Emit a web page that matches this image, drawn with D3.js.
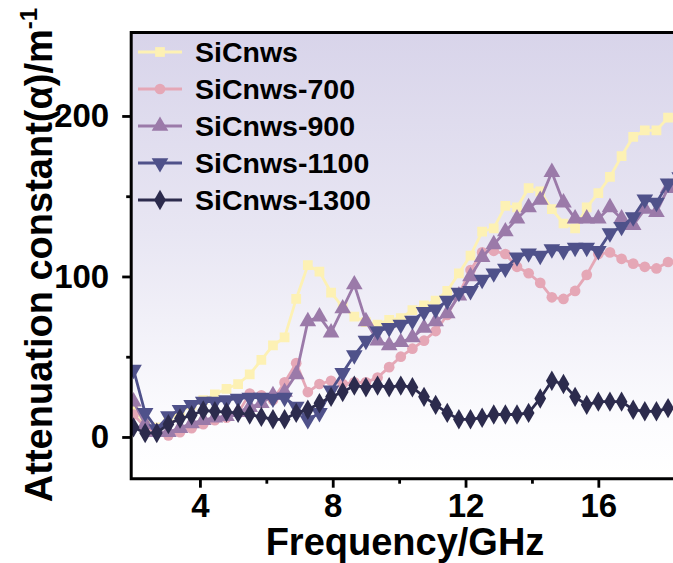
<!DOCTYPE html>
<html>
<head>
<meta charset="utf-8">
<script src="https://cdn.jsdelivr.net/npm/d3@7"></script>
<style>
  html, body { margin: 0; padding: 0; background: #ffffff; }
  svg { display: block; }
  text { font-family: "Liberation Sans", Arial, sans-serif; font-weight: bold; fill: #000; }
</style>
</head>
<body>
<svg id="chart" width="673" height="563"></svg>
<script>
// Frequency sampling points (GHz)
const freq = [2.00, 2.35, 2.70, 3.05, 3.40, 3.75, 4.10, 4.45, 4.80, 5.15, 5.50, 5.85,
  6.20, 6.55, 6.90, 7.25, 7.60, 7.95, 8.30, 8.65, 9.00, 9.35, 9.70, 10.05,
  10.40, 10.75, 11.10, 11.45, 11.80, 12.15, 12.50, 12.85, 13.20, 13.55, 13.90, 14.25,
  14.60, 14.95, 15.30, 15.65, 16.00, 16.35, 16.70, 17.05, 17.40, 17.75, 18.10, 18.45];

// Attenuation constant (m^-1) for each sample
const sicnws = [18, 8, 6, 11, 15.5, 20, 23, 26.5, 30, 33, 39, 48,
  57, 62, 86, 107, 103, 90, 81, 75, 71.5, 70, 73, 74,
  79, 82, 85, 91, 102, 113, 128, 130, 144, 143, 155, 153,
  142, 133, 130, 143, 152, 162, 175, 187, 191, 191, 199, 201];
const sicnws700 = [14, 6, 3, 1, 3, 5.5, 8, 10.5, 12, 15, 27, 26,
  23, 34, 46, 28, 33, 35, 33, 34, 34, 37, 43.5, 50,
  55, 60, 66, 76, 89, 104, 115, 116, 114, 106, 102, 96,
  87, 86, 91, 101, 114, 115, 111, 108, 106, 105, 109, 110];
const sicnws900 = [22, 8, 3, 3, 5.5, 8.5, 10.5, 12, 13, 15.5, 18.5, 21,
  26, 28, 39, 72, 75, 65, 80, 95, 72, 60, 57, 59,
  62, 68, 72, 77, 88, 100, 112, 120, 128, 136, 143, 147.6,
  165, 146, 136, 136, 136, 143, 136, 132, 142, 140, 155, 160];
const sicnws1100 = [42, 15, 5, 13, 17, 20, 22, 22, 23, 24, 24.5, 24.5,
  24, 24.5, 19, 10.6, 15, 29, 40, 51, 60, 66, 68, 70,
  72.5, 78, 79.5, 85, 90, 91, 98, 102, 105, 112, 114.5, 113,
  117, 116, 118, 118, 116, 127, 131, 137, 148, 146, 158, 162];
const sicnws1300 = [6, 2.5, 2.5, 8, 11.5, 13.5, 16.5, 16, 15.5, 15, 14, 12.5,
  11, 11, 15, 17, 21, 25, 28, 32, 31, 32, 31, 32,
  31, 25, 20, 15, 11, 11, 12, 14, 14, 14, 15, 24,
  35, 33, 25, 20, 22, 22, 22, 17, 16, 16, 18, 18];

const seriesNames = ["SiCnws", "SiCnws-700", "SiCnws-900", "SiCnws-1100", "SiCnws-1300"];
const seriesColors = ["#fdf1b4", "#e5a7b6", "#9b7aa9", "#4f518a", "#2c2b4d"];
const seriesSymbols = [d3.symbolSquare, d3.symbolCircle, d3.symbolTriangle, "down", d3.symbolDiamond];
const seriesValues = [sicnws, sicnws700, sicnws900, sicnws1100, sicnws1300];

const xMajorTicks = [4, 8, 12, 16];
const xMinorTicks = [6, 10, 14];
const yMajorTicks = [0, 100, 200];
const yMinorTicks = [50, 150];

const svg = d3.select("#chart");
const plotLeft = 131.2, plotRight = 691.3, plotTop = 32.5, plotBottom = 478.7;

const x = d3.scaleLinear().domain([1.93, 18.8]).range([plotLeft, plotRight]);
const y = d3.scaleLinear().domain([-26, 252]).range([plotBottom, plotTop]);

// plot background: lavender fading to white
const defs = svg.append("defs");
const grad = defs.append("linearGradient").attr("id", "bg")
  .attr("x1", 0).attr("y1", 0).attr("x2", 0).attr("y2", 1);
grad.append("stop").attr("offset", "0%").attr("stop-color", "#d8d4ea");
grad.append("stop").attr("offset", "45%").attr("stop-color", "#e8e6f3");
grad.append("stop").attr("offset", "88%").attr("stop-color", "#fcfcfe");
grad.append("stop").attr("offset", "100%").attr("stop-color", "#ffffff");
defs.append("clipPath").attr("id", "plotClip").append("rect")
  .attr("x", plotLeft).attr("y", plotTop).attr("width", plotRight - plotLeft).attr("height", plotBottom - plotTop);

svg.append("rect").attr("x", plotLeft).attr("y", plotTop)
  .attr("width", plotRight - plotLeft).attr("height", plotBottom - plotTop)
  .attr("fill", "url(#bg)");

// marker path builder
function markerPath(sym, size) {
  if (sym === "down") {
    return d3.symbol().type(d3.symbolTriangle).size(size)();
  }
  return d3.symbol().type(sym).size(size)();
}
const markerSizes = [95, 90, 120, 120, 120];

const plot = svg.append("g").attr("clip-path", "url(#plotClip)");
seriesValues.forEach((vals, s) => {
  const pts = freq.map((f, i) => [f, vals[i]]);
  const line = d3.line().x(d => x(d[0])).y(d => y(d[1]));
  const g = plot.append("g");
  g.append("path").datum(pts).attr("d", line)
    .attr("fill", "none").attr("stroke", seriesColors[s])
    .attr("stroke-width", 2.8).attr("stroke-linejoin", "round");
  g.selectAll("path.m").data(pts).enter().append("path").attr("class", "m")
    .attr("d", markerPath(seriesSymbols[s], markerSizes[s]))
    .attr("transform", d => `translate(${x(d[0])},${y(d[1])})` + (seriesSymbols[s] === "down" ? " rotate(180)" : ""))
    .attr("fill", seriesColors[s]);
});

// axes
const axisStyle = g => {
  g.select(".domain").remove();
  g.selectAll(".tick line").attr("stroke", "#000").attr("stroke-width", 2.8);
  g.selectAll(".tick text").style("font-size", "33px").style("font-weight", "bold")
    .style("font-family", "'Liberation Sans', Arial, sans-serif");
};
svg.append("g").attr("transform", `translate(${plotLeft},0)`)
  .call(d3.axisLeft(y).tickValues(yMajorTicks).tickSize(9).tickPadding(13).tickFormat(d3.format("d")))
  .call(axisStyle);
svg.append("g").attr("transform", `translate(${plotLeft},0)`)
  .call(d3.axisLeft(y).tickValues(yMinorTicks).tickSize(5).tickFormat(""))
  .call(axisStyle);
svg.append("g").attr("transform", `translate(0,${plotBottom})`)
  .call(d3.axisBottom(x).tickValues(xMajorTicks).tickSize(9).tickPadding(6).tickFormat(d3.format("d")))
  .call(axisStyle);
svg.append("g").attr("transform", `translate(0,${plotBottom})`)
  .call(d3.axisBottom(x).tickValues(xMinorTicks).tickSize(5).tickFormat(""))
  .call(axisStyle);

// frame
svg.append("path")
  .attr("d", `M${plotRight},${plotTop}H${plotLeft}V${plotBottom}H${plotRight}`)
  .attr("fill", "none").attr("stroke", "#000").attr("stroke-width", 3);

// axis titles
svg.append("text").attr("x", 405).attr("y", 555).attr("text-anchor", "middle")
  .style("font-size", "38px").text("Frequency/GHz");
const yt = svg.append("text").attr("transform", "translate(52,255) rotate(-90)")
  .attr("text-anchor", "middle").style("font-size", "38px");
yt.append("tspan").text("Attenuation constant(α)/m");
yt.append("tspan").attr("dy", -15).style("font-size", "24px").text("-1");

// legend
const legend = svg.append("g");
seriesNames.forEach((name, s) => {
  const ly = 52 + s * 37;
  const g = legend.append("g");
  g.append("line").attr("x1", 138).attr("x2", 182).attr("y1", ly).attr("y2", ly)
    .attr("stroke", seriesColors[s]).attr("stroke-width", 2.8);
  g.append("path").attr("d", markerPath(seriesSymbols[s], markerSizes[s]))
    .attr("transform", `translate(160,${ly})` + (seriesSymbols[s] === "down" ? " rotate(180)" : ""))
    .attr("fill", seriesColors[s]);
  g.append("text").attr("x", 195).attr("y", ly + 10).style("font-size", "28.5px").text(name);
});
</script>
</body>
</html>
